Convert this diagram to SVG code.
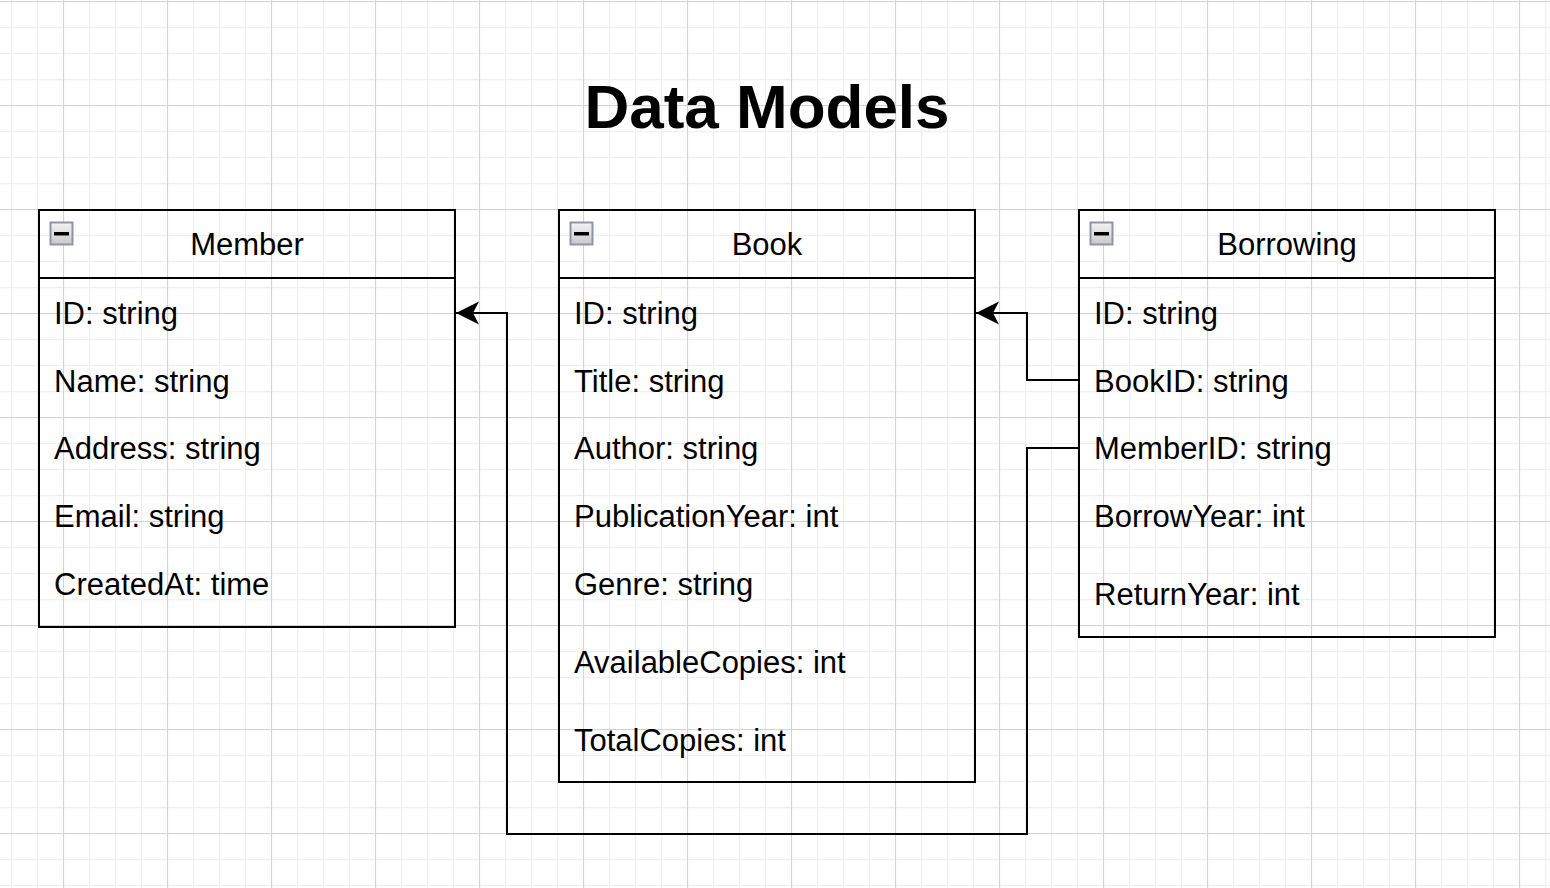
<svg xmlns="http://www.w3.org/2000/svg" width="1550" height="888" viewBox="0 0 1550 888">
  <style>
    .box { fill: none; stroke: #000; stroke-width: 2; }
    .sep { stroke: #000; stroke-width: 2; }
    .hdr { font-family: "Liberation Sans", Arial, Helvetica, sans-serif; font-size: 31px; fill: #000; text-anchor: middle; }
    .fld { font-family: "Liberation Sans", Arial, Helvetica, sans-serif; font-size: 31px; fill: #000; }
    .title { font-family: "Liberation Sans", Arial, Helvetica, sans-serif; font-size: 62px; font-weight: bold; fill: #000; text-anchor: middle; }
    .edge { fill: none; stroke: #000; stroke-width: 2; }
  </style>
  <defs>
    <pattern id="gridMinor" width="26" height="26" patternUnits="userSpaceOnUse" x="11" y="1">
      <path d="M0.5 0 V26 M0 0.5 H26" fill="none" stroke="#f0f0f0" stroke-width="1.5"/>
    </pattern>
    <pattern id="gridMajor" width="104" height="104" patternUnits="userSpaceOnUse" x="63" y="1">
      <path d="M0.5 0 V104 M0 0.5 H104" fill="none" stroke="#d3d3d3" stroke-width="1"/>
    </pattern>
    <linearGradient id="iconGrad" x1="0" y1="0" x2="0" y2="1">
      <stop offset="0" stop-color="#f4f4f4"/>
      <stop offset="1" stop-color="#c8c8cc"/>
    </linearGradient>
    <g id="collapse">
      <rect x="0.5" y="0.5" width="22" height="22" fill="url(#iconGrad)" stroke="#8f93a8" stroke-width="2"/>
      <rect x="4" y="10" width="15" height="3.5" fill="#000"/>
    </g>
    <marker id="arrow" viewBox="0 0 24 24" refX="24" refY="12" markerWidth="24" markerHeight="24" markerUnits="userSpaceOnUse" orient="auto">
      <path d="M24 12 L1 0.5 L7 12 L1 23.5 Z" fill="#000"/>
    </marker>
  </defs>

  <rect x="0" y="0" width="1550" height="888" fill="#ffffff"/>
  <rect x="0" y="0" width="1550" height="888" fill="url(#gridMinor)"/>
  <rect x="0" y="0" width="1550" height="888" fill="url(#gridMajor)"/>

  <text class="title" x="767" y="128">Data Models</text>

  <g id="connectors">
    <path class="edge" d="M1079 380 H1027 V313 H976" marker-end="url(#arrow)"/>
    <path class="edge" d="M1079 448 H1027 V834 H507 V313 H456" marker-end="url(#arrow)"/>
  </g>

  <g id="member">
    <rect class="box" x="39" y="210" width="416" height="417"/>
    <line class="sep" x1="39" y1="278" x2="455" y2="278"/>
    <use href="#collapse" x="50" y="222"/>
    <text class="hdr" x="247" y="255">Member</text>
    <text class="fld" x="54" y="324">ID: string</text>
    <text class="fld" x="54" y="392">Name: string</text>
    <text class="fld" x="54" y="459">Address: string</text>
    <text class="fld" x="54" y="527">Email: string</text>
    <text class="fld" x="54" y="595">CreatedAt: time</text>
  </g>

  <g id="book">
    <rect class="box" x="559" y="210" width="416" height="572"/>
    <line class="sep" x1="559" y1="278" x2="975" y2="278"/>
    <use href="#collapse" x="570" y="222"/>
    <text class="hdr" x="767" y="255">Book</text>
    <text class="fld" x="574" y="324">ID: string</text>
    <text class="fld" x="574" y="392">Title: string</text>
    <text class="fld" x="574" y="459">Author: string</text>
    <text class="fld" x="574" y="527">PublicationYear: int</text>
    <text class="fld" x="574" y="595">Genre: string</text>
    <text class="fld" x="574" y="673">AvailableCopies: int</text>
    <text class="fld" x="574" y="751">TotalCopies: int</text>
  </g>

  <g id="borrowing">
    <rect class="box" x="1079" y="210" width="416" height="427"/>
    <line class="sep" x1="1079" y1="278" x2="1495" y2="278"/>
    <use href="#collapse" x="1090" y="222"/>
    <text class="hdr" x="1287" y="255">Borrowing</text>
    <text class="fld" x="1094" y="324">ID: string</text>
    <text class="fld" x="1094" y="392">BookID: string</text>
    <text class="fld" x="1094" y="459">MemberID: string</text>
    <text class="fld" x="1094" y="527">BorrowYear: int</text>
    <text class="fld" x="1094" y="605">ReturnYear: int</text>
  </g>
</svg>
